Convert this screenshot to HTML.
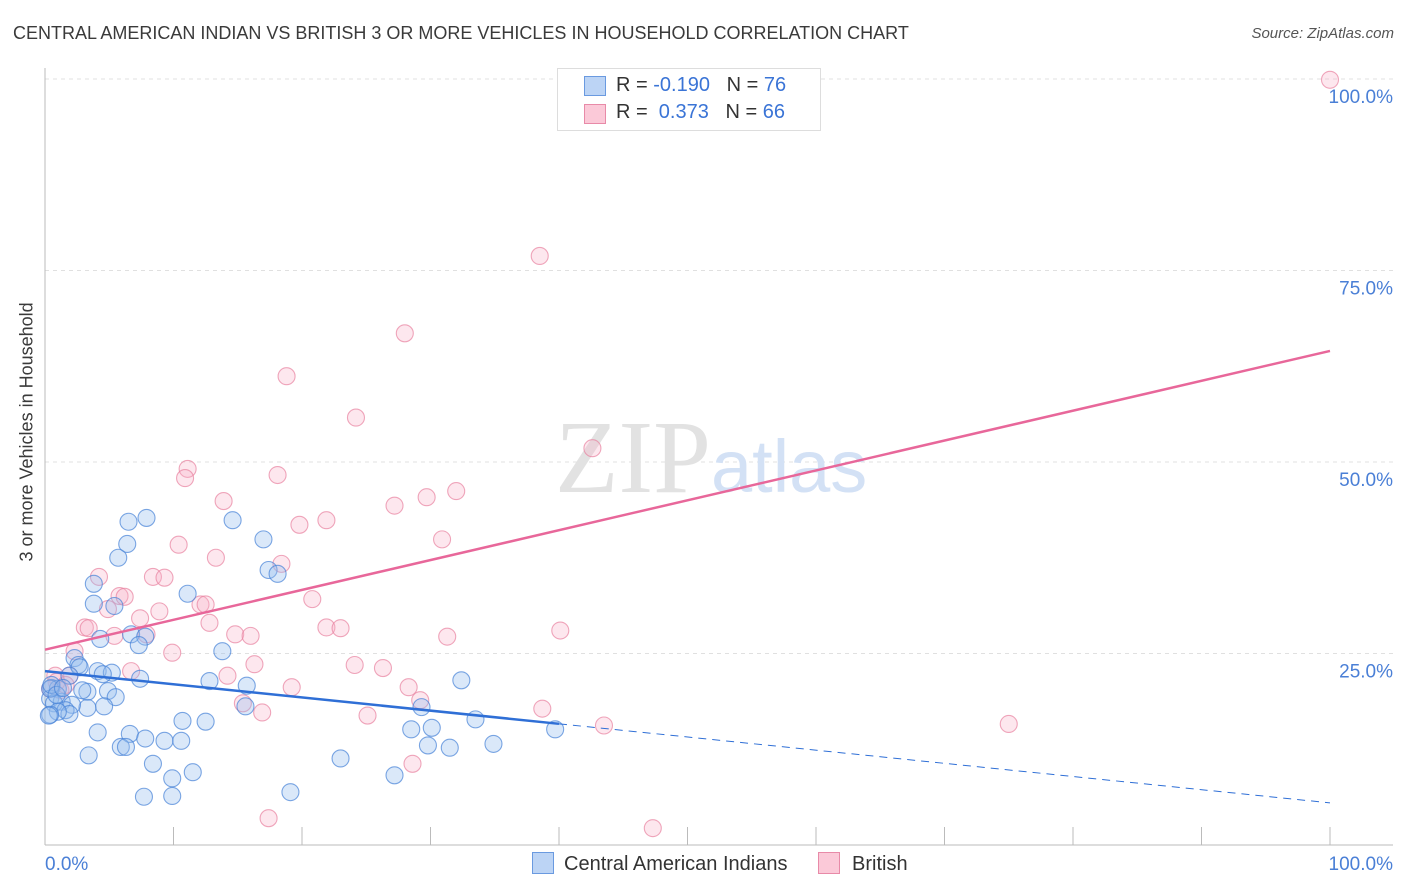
<!DOCTYPE html>
<html><head><meta charset="utf-8"><style>
body{margin:0;background:#fff;font-family:"Liberation Sans",sans-serif}
#wrap{position:relative;width:1406px;height:892px;overflow:hidden}
.t{position:absolute;white-space:nowrap}
</style></head><body>
<div id="wrap">
<div class="t" style="left:13px;top:23px;font-size:18px;color:#3a3a3a">CENTRAL AMERICAN INDIAN VS BRITISH 3 OR MORE VEHICLES IN HOUSEHOLD CORRELATION CHART</div>
<div class="t" style="right:12px;top:25px;font-size:15px;color:#555;font-style:italic">Source: ZipAtlas.com</div>
<div class="t" style="left:-78px;top:446px;font-size:18px;color:#3a3a3a;transform:rotate(-90deg);width:210px;text-align:center">3 or more Vehicles in Household</div>
<svg id="svg" width="1406" height="892" style="position:absolute;left:0;top:0"></svg>
</div>
<script>
const blueX=[7.9,6.5,14.6,6.4,5.7,17.0,3.8,11.1,5.4,3.8,17.4,18.1,6.7,7.8,4.3,7.3,13.8,2.3,2.6,2.7,4.1,5.2,4.5,7.4,1.9,12.8,15.7,32.4,3.3,0.5,2.9,4.9,5.5,1.0,0.4,1.3,0.7,29.3,15.6,4.6,3.3,2.1,1.6,1.9,1.0,0.4,10.7,12.5,33.5,39.7,28.5,30.1,4.1,6.6,7.8,9.3,10.6,5.9,6.3,31.5,34.9,29.8,23.0,3.4,8.4,11.5,9.9,27.2,7.7,9.9,19.1,0.4,0.5,0.9,1.4,0.3];
const blueY=[42.7,42.2,42.4,39.3,37.5,39.9,34.1,32.8,31.2,31.5,35.9,35.4,27.5,27.2,26.9,26.1,25.3,24.4,23.5,23.2,22.7,22.5,22.3,21.7,22.1,21.4,20.8,21.5,20.0,20.5,20.2,20.1,19.3,20.4,19.1,18.7,18.5,18.0,18.1,18.1,17.9,18.3,17.6,17.1,17.4,17.0,16.2,16.1,16.4,15.1,15.1,15.3,14.7,14.5,13.9,13.6,13.6,12.8,12.8,12.7,13.2,13.0,11.3,11.7,10.6,9.5,8.7,9.1,6.3,6.4,6.9,20.4,20.9,19.6,20.5,16.9];
const pinkX=[100,38.5,28.0,18.8,24.2,42.6,11.1,10.9,18.1,13.9,32.0,29.7,27.2,19.8,21.9,30.9,10.4,13.3,18.4,4.2,8.4,9.3,5.8,6.2,20.8,12.1,12.5,4.9,8.9,7.4,12.8,21.9,23.0,3.1,3.4,40.1,31.3,14.8,16.0,5.4,7.9,9.9,2.3,16.3,24.1,26.3,6.7,14.2,1.9,28.3,19.2,15.4,29.2,38.7,43.5,75.0,16.9,25.1,0.8,1.2,0.9,28.6,17.4,47.3,0.4,1.6];
const pinkY=[99.9,76.9,66.8,61.2,55.8,51.8,49.1,47.9,48.3,44.9,46.2,45.4,44.3,41.8,42.4,39.9,39.2,37.5,36.7,35.0,35.0,34.9,32.5,32.4,32.1,31.4,31.4,30.8,30.5,29.6,29.0,28.4,28.3,28.4,28.3,28.0,27.2,27.5,27.3,27.3,27.5,25.1,25.3,23.6,23.5,23.1,22.7,22.1,22.1,20.6,20.6,18.5,18.9,17.8,15.6,15.8,17.3,16.9,22.1,20.2,21.3,10.6,3.5,2.2,20.4,20.9];
const blueLine=[22.7,5.5], blueSolidEnd=40;
const pinkLine=[25.5,64.5];
const xTicks=["0.0%","100.0%"], yTicks=[25,50,75,100], yTickLabels=["25.0%","50.0%","75.0%","100.0%"];
const L=45,R=1330,T=79,B=845;
const sx=v=>L+(R-L)*v/100, sy=v=>B-(B-T)*v/100;
const svg=document.getElementById('svg');const NS='http://www.w3.org/2000/svg';
function mk(tag,at){const e=document.createElementNS(NS,tag);for(const k in at)e.setAttribute(k,at[k]);svg.appendChild(e);return e;}
yTicks.forEach((v,i)=>{
 const g=mk('line',{x1:L,x2:1393,y1:sy(v),y2:sy(v),stroke:'#e0e0e0','stroke-dasharray':'4,4'});
 
 
 const t=mk('text',{x:1393,y:sy(v)+24,'text-anchor':'end','font-size':19,fill:'#4a7fd6','font-family':'Liberation Sans'});
 t.textContent=yTickLabels[i];
 
 
});
const ax=mk('line',{x1:L,x2:L,y1:68,y2:B,stroke:'#bbb'});


const bx=mk('line',{x1:L,x2:1393,y1:B,y2:B,stroke:'#bbb'});


for(let i=1;i<=10;i++){const x=L+128.5*i;const tk=mk('line',{x1:x,x2:x,y1:B-18,y2:B,stroke:'#bbb'});
 
 }
xTicks.forEach((s,i)=>{const t=mk('text',{x:i?1393:45,y:870,'text-anchor':i?'end':'start','font-size':19,fill:'#4a7fd6','font-family':'Liberation Sans'});t.textContent=s;
 
 });
const wm=mk('text',{x:555,y:492,'font-size':104,fill:'#e2e2e2','font-family':'Liberation Serif'});wm.innerHTML='ZIP<tspan font-family="Liberation Sans" fill="#d3e1f5" font-size="74">atlas</tspan>';


function dots(X,Y,fill,st,name){X.forEach((x,i)=>{const c=mk('circle',{cx:sx(x),cy:sy(Y[i]),r:8.5,fill:fill,stroke:st,'stroke-width':1.1});
 
 });}
dots(pinkX,pinkY,'rgba(248,175,198,0.3)','rgba(232,130,160,0.7)','british-point');
dots(blueX,blueY,'rgba(150,188,238,0.35)','rgba(70,130,215,0.7)','central-american-point');
const by=x=>blueLine[0]+(blueLine[1]-blueLine[0])*x/100;
const bl=mk('line',{x1:sx(0),y1:sy(by(0)),x2:sx(blueSolidEnd),y2:sy(by(blueSolidEnd)),stroke:'#2f6fd6','stroke-width':2.5});


const bd=mk('line',{x1:sx(blueSolidEnd),y1:sy(by(blueSolidEnd)),x2:sx(100),y2:sy(by(100)),stroke:'#2f6fd6','stroke-width':1,'stroke-dasharray':'8,6'});


const pl=mk('line',{x1:sx(0),y1:sy(pinkLine[0]),x2:sx(100),y2:sy(pinkLine[1]),stroke:'#e8679a','stroke-width':2.5});


</script>
<div class="t" style="left:557px;top:68px;width:262px;height:61px;border:1px solid #ddd;background:#fff;font-size:20px;color:#333">
 <div style="position:absolute;left:26px;top:7px;width:20px;height:18px;background:#bcd4f5;border:1px solid #6a9ae0"></div>
 <div style="position:absolute;left:58px;top:5px">R = <span style="color:#3a74d6">-0.190</span>&nbsp;&nbsp;&nbsp;N = <span style="color:#3a74d6">76</span></div>
 <div style="position:absolute;left:26px;top:35px;width:20px;height:18px;background:#fbc9d8;border:1px solid #e88aa8"></div>
 <div style="position:absolute;left:58px;top:32px">R = &nbsp;<span style="color:#3a74d6">0.373</span>&nbsp;&nbsp;&nbsp;N = <span style="color:#3a74d6">66</span></div>
</div>
<div class="t" style="left:532px;top:852px;font-size:20px;color:#333"><span style="display:inline-block;width:20px;height:20px;background:#bcd4f5;border:1px solid #6a9ae0;vertical-align:-4px;margin-right:10px"></span>Central American Indians</div>
<div class="t" style="left:818px;top:852px;font-size:20px;color:#333"><span style="display:inline-block;width:20px;height:20px;background:#fbc9d8;border:1px solid #e88aa8;vertical-align:-4px;margin-right:12px"></span>British</div>
</body></html>
